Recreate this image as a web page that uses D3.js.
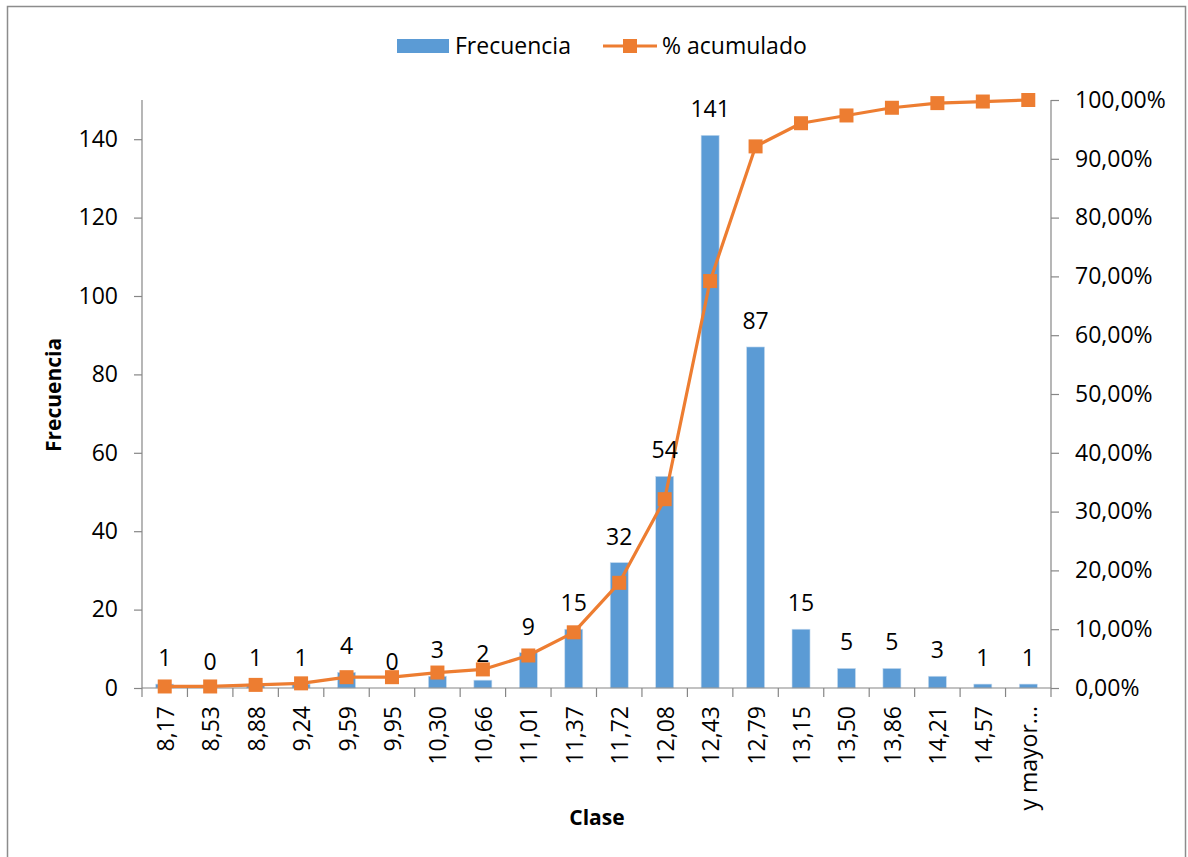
<!DOCTYPE html>
<html>
<head>
<meta charset="utf-8">
<script src="https://cdn.jsdelivr.net/npm/d3@7"></script>
<style>
  html, body { margin: 0; padding: 0; background: #fff; }
  svg { display: block; font-family: "Open Sans", sans-serif; }
</style>
</head>
<body>
<svg id="chart" width="1188" height="857"></svg>
<script>
const categories = ["8,17","8,53","8,88","9,24","9,59","9,95","10,30","10,66","11,01","11,37","11,72","12,08","12,43","12,79","13,15","13,50","13,86","14,21","14,57","y mayor..."];
const frecuencia = [1,0,1,1,4,0,3,2,9,15,32,54,141,87,15,5,5,3,1,1];
const acumulado = [0.26,0.26,0.53,0.79,1.84,1.84,2.63,3.16,5.53,9.47,17.89,32.11,69.21,92.11,96.05,97.37,98.68,99.47,99.74,100];
const leftTicks = [0,20,40,60,80,100,120,140];
const rightTicks = [0,10,20,30,40,50,60,70,80,90,100];

const blue = "#5B9BD5", orange = "#ED7D31", axisColor = "#868686";
const FS = 23;
const svg = d3.select("#chart");

// frame
svg.append("rect").attr("x", 7.5).attr("y", 6.5).attr("width", 1178).attr("height", 856)
  .attr("fill", "none").attr("stroke", "#8c8c8c").attr("stroke-width", 1.5);

const L = 142, R = 1051, T = 100, B = 688;
const x = d3.scaleBand().domain(categories).range([L, R]).padding(0);
const yL = d3.scaleLinear().domain([0, 150]).range([B, T]);
const yR = d3.scaleLinear().domain([0, 100]).range([B, T]);

// bars
const barW = 18;
svg.append("g").selectAll("rect").data(frecuencia).join("rect")
  .attr("x", (d, i) => x(categories[i]) + x.bandwidth() / 2 - barW / 2)
  .attr("y", d => yL(d))
  .attr("width", barW)
  .attr("height", d => B - yL(d))
  .attr("fill", blue)
  .attr("stroke", "#c9dcef").attr("stroke-width", 0.6);

// left axis
const gL = svg.append("g").attr("transform", `translate(${L},0)`)
  .call(d3.axisLeft(yL).tickValues(leftTicks).tickSize(8).tickPadding(16).tickFormat(d3.format("d")));
// right axis
const gR = svg.append("g").attr("transform", `translate(${R},0)`)
  .call(d3.axisRight(yR).tickValues(rightTicks).tickSize(8).tickPadding(16)
    .tickFormat(d => d.toFixed(2).replace(".", ",") + "%"));
[gL, gR].forEach(g => {
  g.select(".domain").attr("stroke", axisColor).attr("stroke-width", 1.2)
    .attr("d", `M0,${T}V${B}`);
  g.selectAll(".tick line").attr("stroke", axisColor).attr("stroke-width", 1.2);
  g.selectAll(".tick text").attr("font-size", FS).attr("fill", "#000")
    .attr("font-family", "Open Sans, sans-serif");
});

// bottom axis
const gB = svg.append("g").attr("transform", `translate(0,${B})`);
gB.append("line").attr("x1", L).attr("x2", R).attr("stroke", axisColor).attr("stroke-width", 1.2);
const edges = categories.map(c => x(c)).concat([R]);
gB.selectAll("line.t").data(edges).join("line").attr("class", "t")
  .attr("x1", d => d).attr("x2", d => d).attr("y1", 0).attr("y2", 9)
  .attr("stroke", axisColor).attr("stroke-width", 1.2);
gB.selectAll("text").data(categories).join("text")
  .attr("transform", d => `translate(${x(d) + x.bandwidth() / 2},18) rotate(-90)`)
  .attr("text-anchor", "end").attr("dominant-baseline", "central")
  .attr("font-size", FS).attr("fill", "#000").text(d => d);

// line
const cx = i => x(categories[i]) + x.bandwidth() / 2;
svg.append("path").datum(acumulado)
  .attr("d", d3.line().x((d, i) => cx(i)).y(d => yR(d)))
  .attr("fill", "none").attr("stroke", orange).attr("stroke-width", 3.2).attr("stroke-linejoin", "round");
const ms = 14;
svg.append("g").selectAll("rect").data(acumulado).join("rect")
  .attr("x", (d, i) => cx(i) - ms / 2).attr("y", d => yR(d) - ms / 2)
  .attr("width", ms).attr("height", ms).attr("fill", orange);

// data labels
svg.append("g").selectAll("text").data(frecuencia).join("text")
  .attr("x", (d, i) => cx(i)).attr("y", d => yL(d) - 18)
  .attr("text-anchor", "middle").attr("font-size", FS).attr("fill", "#000")
  .text(d => d);

// axis titles
svg.append("text").attr("transform", "translate(61,395) rotate(-90)")
  .attr("text-anchor", "middle").attr("font-size", 21).attr("font-weight", "bold").text("Frecuencia");
svg.append("text").attr("x", 597).attr("y", 825)
  .attr("text-anchor", "middle").attr("font-size", 21).attr("font-weight", "bold").text("Clase");

// legend
const lg = svg.append("g");
lg.append("rect").attr("x", 397).attr("y", 39).attr("width", 52).attr("height", 14).attr("fill", blue);
lg.append("text").attr("x", 455).attr("y", 54).attr("font-size", FS).text("Frecuencia");
lg.append("line").attr("x1", 603).attr("x2", 657).attr("y1", 46).attr("y2", 46)
  .attr("stroke", orange).attr("stroke-width", 3.2);
lg.append("rect").attr("x", 630 - 7).attr("y", 46 - 7).attr("width", 14).attr("height", 14).attr("fill", orange);
lg.append("text").attr("x", 662).attr("y", 54).attr("font-size", FS).text("% acumulado");
</script>
</body>
</html>
